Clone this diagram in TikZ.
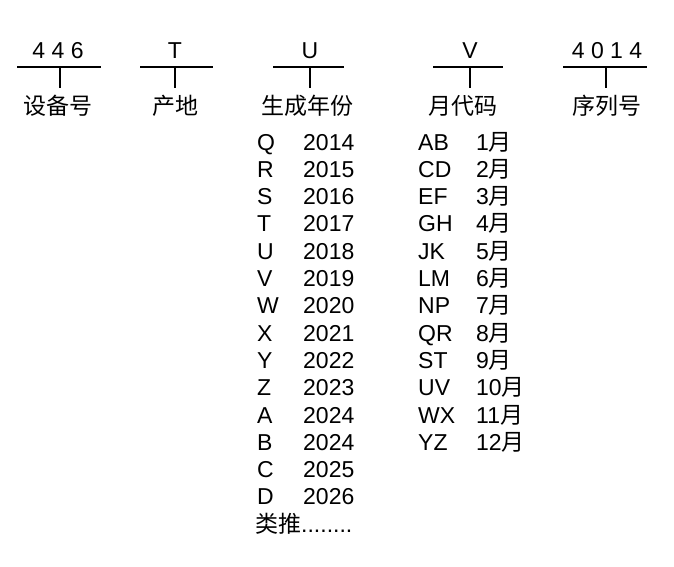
\documentclass[tikz,border=0pt]{standalone}
\usepackage{fontspec}
\setmainfont{Liberation Sans}
\newfontfamily\cjk{Noto Sans CJK SC}
\usetikzlibrary{calc}
\tikzset{
  rule/.style={draw=black, line width=2pt},
  lab/.style={font=\fontsize{23}{27}\selectfont, inner sep=0pt, anchor=base},
  labc/.style={lab, font=\fontsize{23}{27}\selectfont\cjk},
  cell/.style={lab, anchor=base west}
}
\begin{document}
\begin{tikzpicture}[x=1pt,y=-1pt]
  \useasboundingbox (0,0) rectangle (674,566);
  \def\dy{27.3}

  % code fields
  \foreach \i/\xl/\xr/\xt/\xh/\head/\xf/\field in {
    1/17/101/60/58/{4 4 6}/58/设备号,
    2/140/213/175/175/T/175/产地,
    3/273/344/310/310/U/307/生成年份,
    4/433/503/470/470/V/463/月代码,
    5/563/647/606/607/{4 0 1 4}/607/序列号}{
    \coordinate (l\i) at (\xl,67);
    \coordinate (r\i) at (\xr,67);
    \coordinate (t\i) at (\xt,67);
    \coordinate (b\i) at (\xt,88);
    \node[lab] (h\i) at (\xh,58) {\head};
    \node[labc] (f\i) at (\xf,114) {\field};
    \draw[rule] (l\i) -- (r\i);
    \draw[rule] (t\i) -- (b\i);
  }

  % year codes
  \foreach \k/\c/\y in {0/Q/2014,1/R/2015,2/S/2016,3/T/2017,4/U/2018,5/V/2019,
    6/W/2020,7/X/2021,8/Y/2022,9/Z/2023,10/A/2024,11/B/2024,12/C/2025,13/D/2026}{
    \node[cell] (yc\k) at (257,{150+\dy*\k}) {\c};
    \node[cell] (yv\k) at (303,{150+\dy*\k}) {\y};
  }
  \node[cell] (more) at (255,{150+\dy*14}) {{\cjk 类推}........};

  % month codes
  \foreach \k/\c/\m in {0/AB/1,1/CD/2,2/EF/3,3/GH/4,4/JK/5,5/LM/6,
    6/NP/7,7/QR/8,8/ST/9,9/UV/10,10/WX/11,11/YZ/12}{
    \node[cell] (mc\k) at (418,{150+\dy*\k}) {\c};
    \node[cell] (mv\k) at (476,{150+\dy*\k}) {\m{\cjk 月}};
  }
\end{tikzpicture}
\end{document}
